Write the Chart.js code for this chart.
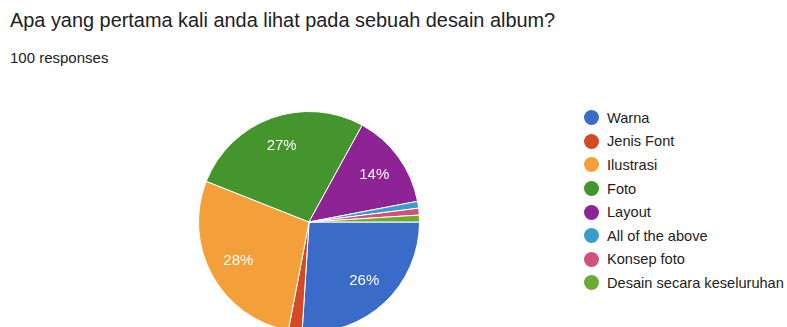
<!DOCTYPE html>
<html>
<head>
<meta charset="utf-8">
<script src="https://cdn.jsdelivr.net/npm/chart.js@4/dist/chart.umd.min.js"></script>
<style>
  html, body { margin: 0; padding: 0; background: #fff; overflow: hidden; }
  body { width: 787px; height: 327px; position: relative; font-family: "Liberation Sans", Arial, sans-serif; }
  #title { position: absolute; left: 10px; top: 9px; font-size: 19.9px; color: #202124; white-space: nowrap; }
  #sub { position: absolute; left: 10px; top: 49px; font-size: 15px; color: #202124; white-space: nowrap; }
  #pieBox { position: absolute; left: 198px; top: 111px; width: 222px; height: 222px; }
  #legend { position: absolute; left: 584px; top: 106px; margin: 0; padding: 0; list-style: none; }
  #legend li { height: 23.6px; display: flex; align-items: center; font-size: 14.6px; color: #222; white-space: nowrap; }
  #legend .dot { width: 15px; height: 15px; border-radius: 50%; margin-right: 8px; flex: none; }
</style>
</head>
<body>
<div id="title">Apa yang pertama kali anda lihat pada sebuah desain album?</div>
<div id="sub">100 responses</div>
<div id="pieBox"><canvas id="pie"></canvas></div>
<ul id="legend"></ul>
<script>
const categories = ['Warna', 'Jenis Font', 'Ilustrasi', 'Foto', 'Layout', 'All of the above', 'Konsep foto', 'Desain secara keseluruhan'];
const percentages = [26, 2, 28, 27, 14, 1, 1, 1];
const sliceColors = ['#3a6bc8', '#d24b26', '#f4a03a', '#45952f', '#8d2394', '#3a9ccb', '#d0517a', '#6faa35'];

// White percentage text inside the larger slices
const sliceLabels = {
  id: 'sliceLabels',
  afterDatasetsDraw(chart) {
    const ctx = chart.ctx;
    const meta = chart.getDatasetMeta(0);
    ctx.save();
    ctx.fillStyle = '#ffffff';
    ctx.font = '15px "Liberation Sans", Arial, sans-serif';
    ctx.textAlign = 'center';
    ctx.textBaseline = 'middle';
    meta.data.forEach((arc, i) => {
      const v = percentages[i];
      if (v < 5) return;
      const p = arc.getProps(['x', 'y', 'startAngle', 'endAngle', 'outerRadius']);
      const mid = (p.startAngle + p.endAngle) / 2;
      const r = p.outerRadius * 0.73;
      ctx.fillText(v + '%', p.x + Math.cos(mid) * r, p.y + Math.sin(mid) * r);
    });
    ctx.restore();
  }
};

new Chart(document.getElementById('pie'), {
  type: 'pie',
  data: {
    labels: categories,
    datasets: [{
      data: percentages,
      backgroundColor: sliceColors,
      borderColor: '#ffffff',
      borderWidth: 1
    }]
  },
  options: {
    responsive: true,
    maintainAspectRatio: false,
    animation: false,
    rotation: 90,
    layout: { padding: 0 },
    plugins: { legend: { display: false }, tooltip: { enabled: false } }
  },
  plugins: [sliceLabels]
});

const legend = document.getElementById('legend');
categories.forEach((name, i) => {
  const li = document.createElement('li');
  const dot = document.createElement('span');
  dot.className = 'dot';
  dot.style.background = sliceColors[i];
  li.appendChild(dot);
  li.appendChild(document.createTextNode(name));
  legend.appendChild(li);
});
</script>
</body>
</html>
